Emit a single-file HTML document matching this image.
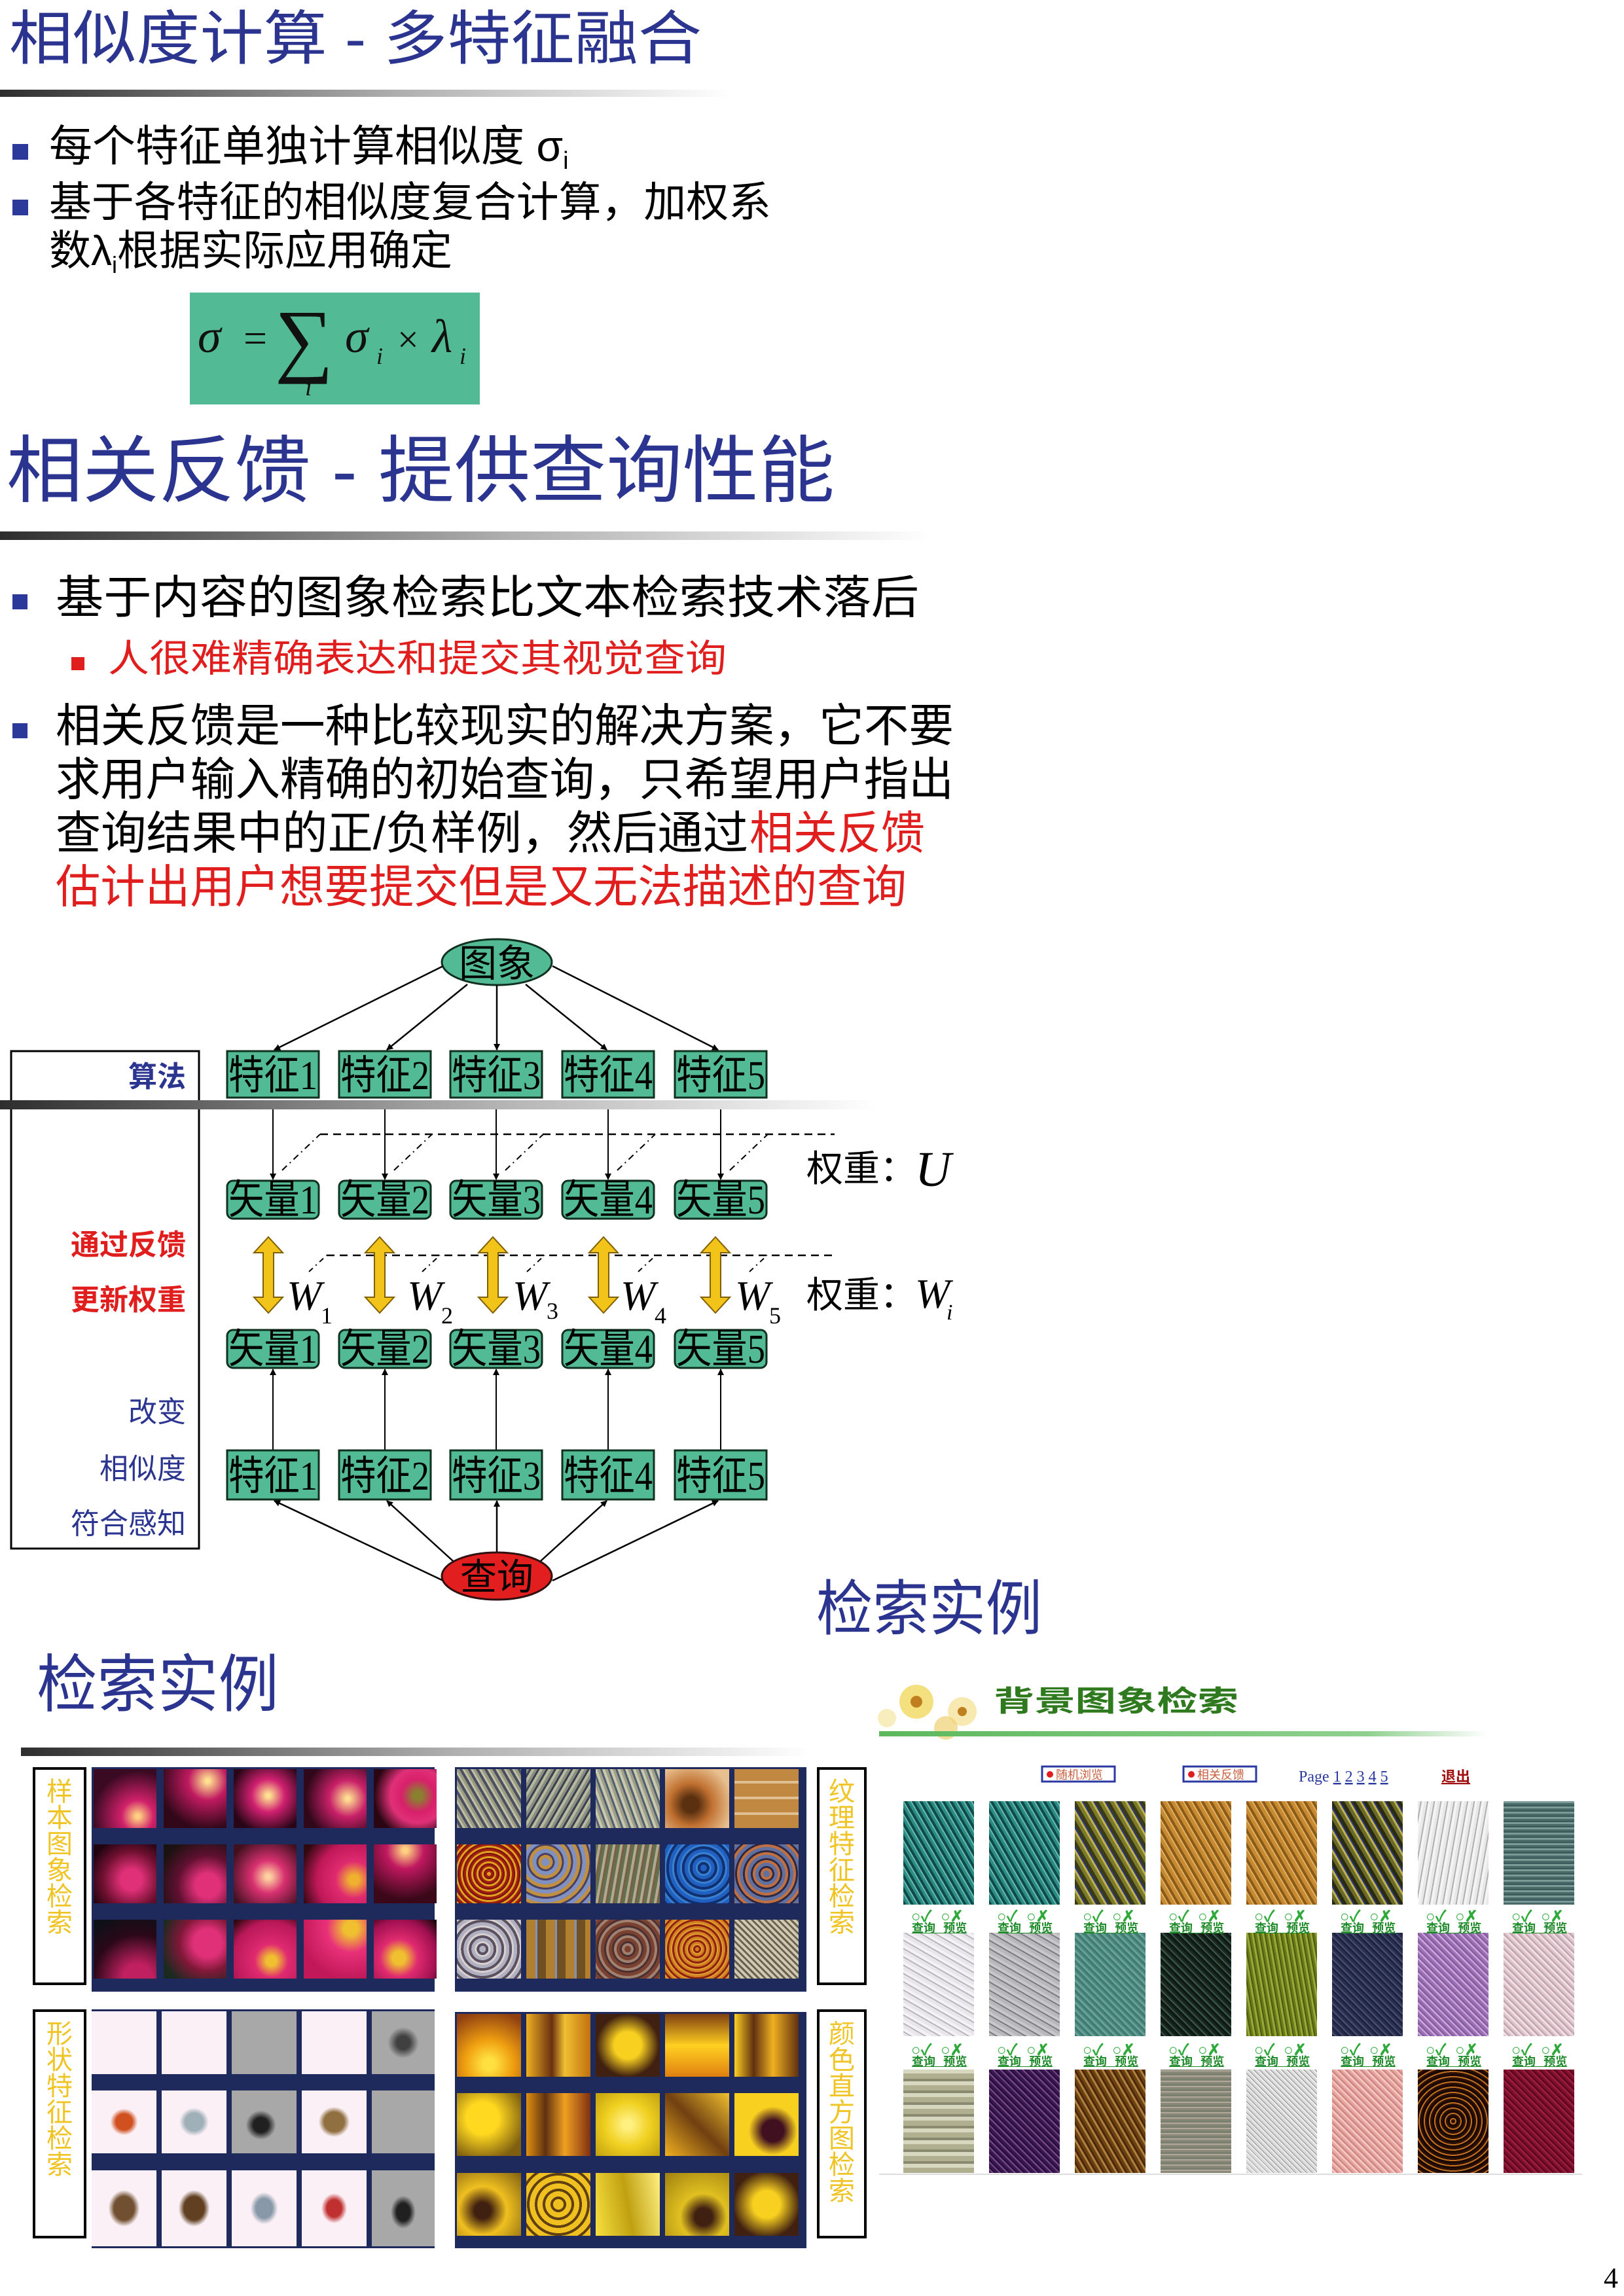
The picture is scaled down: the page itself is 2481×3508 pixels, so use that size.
<!DOCTYPE html>
<html><head><meta charset="utf-8"><style>
html,body{margin:0;padding:0;background:#fff;}
body{width:2481px;height:3508px;position:relative;overflow:hidden;font-family:"Liberation Sans","Noto Sans CJK SC",sans-serif;}
.abs{position:absolute;}
.panel{position:absolute;background:#1e2a5c;}
.cell{position:absolute;width:96px;height:90px;}
.vbox{position:absolute;border:4px solid #000;background:#fff;box-sizing:border-box;}
.vtxt{color:#f0c424;font-size:40px;line-height:40px;width:44px;margin:10px auto;text-align:center;font-family:"Noto Sans CJK SC",sans-serif;}
.tx{position:absolute;width:108px;height:158px;}
.ck{position:absolute;font-size:24px;color:#2faa3a;font-weight:bold;white-space:nowrap;}
.ql{position:absolute;font-size:18px;color:#1f8a2a;text-decoration:underline;font-family:"Noto Sans CJK SC",sans-serif;font-weight:bold;white-space:nowrap;}
</style></head><body>

<svg class="abs" style="left:0;top:0" width="2481" height="3508" xmlns="http://www.w3.org/2000/svg">
<defs>
<linearGradient id="bar" x1="0" x2="1"><stop offset="0" stop-color="#2e2e2e"/><stop offset="0.55" stop-color="#b0b0b0"/><stop offset="1" stop-color="#fff"/></linearGradient>
<linearGradient id="gbar" x1="0" x2="1"><stop offset="0" stop-color="#5cb85c"/><stop offset="0.8" stop-color="#8fd08f"/><stop offset="1" stop-color="#fff"/></linearGradient>
<marker id="ah" markerWidth="10" markerHeight="10" refX="9" refY="5" orient="auto" markerUnits="userSpaceOnUse"><path d="M0,0 L10,5 L0,10 z" fill="#000"/></marker>
<g id="yarr"><path d="M0,-58 L-22,-34 L-8,-34 L-8,34 L-22,34 L0,58 L22,34 L8,34 L8,-34 L22,-34 z" fill="#f2c318" stroke="#806000" stroke-width="2"/></g>
</defs>
<style>
.cjk{font-family:"Liberation Sans","Noto Sans CJK SC",sans-serif;}
.ser{font-family:"Liberation Serif","Noto Serif CJK SC",serif;}
.fb{fill:#52bb96;stroke:#103020;stroke-width:3;}
.ft{font-family:"Liberation Serif","Noto Sans CJK SC",serif;font-size:62px;fill:#000;}
</style>

<text x="14" y="90" class="cjk" font-size="90" fill="#2b3590" textLength="1058" lengthAdjust="spacingAndGlyphs">相似度计算 - 多特征融合</text>
<rect x="0" y="137" width="1116" height="11" fill="url(#bar)"/>

<rect x="19" y="220" width="24" height="24" fill="#2b3a9a"/>
<text x="75" y="246" class="cjk" font-size="66" fill="#000">每个特征单独计算相似度 <tspan>σ</tspan><tspan font-size="38" dy="12">i</tspan></text>
<rect x="19" y="305" width="24" height="24" fill="#2b3a9a"/>
<text x="75" y="331" class="cjk" font-size="64" fill="#000" textLength="1103" lengthAdjust="spacingAndGlyphs">基于各特征的相似度复合计算，加权系</text>
<text x="75" y="405" class="cjk" font-size="64" fill="#000">数λ<tspan font-size="36" dy="12">i</tspan><tspan dy="-12">根据实际应用确定</tspan></text>

<rect x="290" y="447" width="443" height="171" fill="#52bb96"/>
<g class="ser" font-style="italic" fill="#111">
<text x="302" y="538" font-size="72">σ</text>
<text x="372" y="538" font-size="64" font-style="normal">=</text>
<text x="420" y="560" font-size="125" font-style="normal">∑</text>
<text x="466" y="604" font-size="38">i</text>
<text x="527" y="538" font-size="72">σ</text>
<text x="575" y="556" font-size="36">i</text>
<text x="607" y="538" font-size="58" font-style="normal">×</text>
<text x="660" y="538" font-size="72">λ</text>
<text x="702" y="556" font-size="36">i</text>
</g>

<text x="10" y="758" class="cjk" font-size="112" fill="#2b3590" textLength="1265" lengthAdjust="spacingAndGlyphs">相关反馈 - 提供查询性能</text>
<rect x="0" y="812" width="1424" height="13" fill="url(#bar)"/>

<rect x="19" y="908" width="23" height="23" fill="#2b3a9a"/>
<text x="85" y="937" class="cjk" font-size="70" fill="#000" textLength="1319" lengthAdjust="spacingAndGlyphs">基于内容的图象检索比文本检索技术落后</text>
<rect x="109" y="1004" width="20" height="20" fill="#e01e1e"/>
<text x="165" y="1026" class="cjk" font-size="58" fill="#e01e1e" textLength="945" lengthAdjust="spacingAndGlyphs">人很难精确表达和提交其视觉查询</text>
<rect x="19" y="1105" width="23" height="23" fill="#2b3a9a"/>
<text x="85" y="1133" class="cjk" font-size="70" fill="#000" textLength="1372" lengthAdjust="spacingAndGlyphs">相关反馈是一种比较现实的解决方案，它不要</text>
<text x="85" y="1215" class="cjk" font-size="70" fill="#000" textLength="1372" lengthAdjust="spacingAndGlyphs">求用户输入精确的初始查询，只希望用户指出</text>
<text x="85" y="1297" class="cjk" font-size="70" fill="#000" textLength="1058" lengthAdjust="spacingAndGlyphs">查询结果中的正/负样例，然后通过</text>
<text x="1145" y="1297" class="cjk" font-size="70" fill="#e01e1e" textLength="268" lengthAdjust="spacingAndGlyphs">相关反馈</text>
<text x="85" y="1379" class="cjk" font-size="70" fill="#e01e1e" textLength="1300" lengthAdjust="spacingAndGlyphs">估计出用户想要提交但是又无法描述的查询</text>

<rect x="17" y="1606" width="287" height="760" fill="none" stroke="#000" stroke-width="3"/>
<g class="cjk" font-size="44" text-anchor="end">
<text x="284" y="1660" fill="#2b3590" font-weight="bold">算法</text>
<text x="284" y="1917" fill="#e01e1e" font-weight="bold">通过反馈</text>
<text x="284" y="2001" fill="#e01e1e" font-weight="bold">更新权重</text>
<text x="284" y="2172" fill="#2b3590">改变</text>
<text x="284" y="2259" fill="#2b3590">相似度</text>
<text x="284" y="2343" fill="#2b3590">符合感知</text>
</g>

<ellipse cx="759" cy="1470" rx="84" ry="35" fill="#52bb96" stroke="#103020" stroke-width="3"/>
<text x="759" y="1492" class="cjk" font-size="58" text-anchor="middle">图象</text>
<g stroke="#000" stroke-width="2.5" marker-end="url(#ah)">
<line x1="677" y1="1476" x2="419" y2="1604"/>
<line x1="714" y1="1504" x2="591" y2="1604"/>
<line x1="759" y1="1505" x2="759" y2="1604"/>
<line x1="803" y1="1504" x2="927" y2="1604"/>
<line x1="844" y1="1476" x2="1097" y2="1604"/>
</g>

<g>
<rect class="fb" x="347" y="1606" width="140" height="71"/><rect class="fb" x="518" y="1606" width="140" height="71"/><rect class="fb" x="688" y="1606" width="140" height="71"/><rect class="fb" x="859" y="1606" width="140" height="71"/><rect class="fb" x="1031" y="1606" width="140" height="71"/>
<text class="ft" x="349" y="1664" textLength="136" lengthAdjust="spacingAndGlyphs">特征1</text><text class="ft" x="520" y="1664" textLength="136" lengthAdjust="spacingAndGlyphs">特征2</text><text class="ft" x="690" y="1664" textLength="136" lengthAdjust="spacingAndGlyphs">特征3</text><text class="ft" x="861" y="1664" textLength="136" lengthAdjust="spacingAndGlyphs">特征4</text><text class="ft" x="1033" y="1664" textLength="136" lengthAdjust="spacingAndGlyphs">特征5</text>
</g>

<rect x="0" y="1681" width="1340" height="14" fill="url(#bar)"/>

<g stroke="#000" stroke-width="2" marker-end="url(#ah)">
<line x1="417" y1="1695" x2="417" y2="1802"/><line x1="588" y1="1695" x2="588" y2="1802"/><line x1="758" y1="1695" x2="758" y2="1802"/><line x1="929" y1="1695" x2="929" y2="1802"/><line x1="1101" y1="1695" x2="1101" y2="1802"/>
</g>
<line x1="489" y1="1733" x2="1275" y2="1733" stroke="#000" stroke-width="2.5" stroke-dasharray="12,8"/>
<g stroke="#000" stroke-width="2" stroke-dasharray="10,6,2,6">
<line x1="431" y1="1788" x2="489" y2="1733"/><line x1="602" y1="1788" x2="660" y2="1733"/><line x1="772" y1="1788" x2="830" y2="1733"/><line x1="943" y1="1788" x2="1001" y2="1733"/><line x1="1115" y1="1788" x2="1173" y2="1733"/>
</g>
<text x="1232" y="1805" class="cjk" font-size="56">权重：</text>
<text x="1398" y="1812" class="ser" font-size="76" font-style="italic">U</text>

<g>
<rect class="fb" x="347" y="1804" width="140" height="58" rx="9"/><rect class="fb" x="518" y="1804" width="140" height="58" rx="9"/><rect class="fb" x="688" y="1804" width="140" height="58" rx="9"/><rect class="fb" x="859" y="1804" width="140" height="58" rx="9"/><rect class="fb" x="1031" y="1804" width="140" height="58" rx="9"/>
<text class="ft" x="349" y="1854" font-size="58" textLength="136" lengthAdjust="spacingAndGlyphs">矢量1</text><text class="ft" x="520" y="1854" font-size="58" textLength="136" lengthAdjust="spacingAndGlyphs">矢量2</text><text class="ft" x="690" y="1854" font-size="58" textLength="136" lengthAdjust="spacingAndGlyphs">矢量3</text><text class="ft" x="861" y="1854" font-size="58" textLength="136" lengthAdjust="spacingAndGlyphs">矢量4</text><text class="ft" x="1033" y="1854" font-size="58" textLength="136" lengthAdjust="spacingAndGlyphs">矢量5</text>
</g>

<line x1="499" y1="1918" x2="1275" y2="1918" stroke="#000" stroke-width="2.5" stroke-dasharray="12,8"/>
<g stroke="#000" stroke-width="2" stroke-dasharray="8,6,2,6">
<line x1="472" y1="1943" x2="499" y2="1918"/><line x1="645" y1="1943" x2="672" y2="1918"/><line x1="805" y1="1943" x2="832" y2="1918"/><line x1="975" y1="1943" x2="1002" y2="1918"/><line x1="1145" y1="1943" x2="1172" y2="1918"/>
</g>
<use href="#yarr" x="410" y="1948"/><use href="#yarr" x="580" y="1948"/><use href="#yarr" x="753" y="1948"/><use href="#yarr" x="922" y="1948"/><use href="#yarr" x="1093" y="1948"/>
<g class="ser" font-style="italic" font-size="64" fill="#000">
<text x="438" y="2001">W</text><text x="622" y="2001">W</text><text x="783" y="2001">W</text><text x="948" y="2001">W</text><text x="1123" y="2001">W</text>
</g>
<g class="ser" font-size="36" fill="#000">
<text x="490" y="2022">1</text><text x="674" y="2022">2</text><text x="835" y="2015">3</text><text x="1000" y="2022">4</text><text x="1175" y="2022">5</text>
</g>
<text x="1232" y="1998" class="cjk" font-size="56">权重：</text>
<text x="1398" y="1998" class="ser" font-size="64" font-style="italic">W</text>
<text x="1446" y="2016" class="ser" font-size="34" font-style="italic">i</text>

<g>
<rect class="fb" x="347" y="2032" width="140" height="58" rx="9"/><rect class="fb" x="518" y="2032" width="140" height="58" rx="9"/><rect class="fb" x="688" y="2032" width="140" height="58" rx="9"/><rect class="fb" x="859" y="2032" width="140" height="58" rx="9"/><rect class="fb" x="1031" y="2032" width="140" height="58" rx="9"/>
<text class="ft" x="349" y="2082" font-size="58" textLength="136" lengthAdjust="spacingAndGlyphs">矢量1</text><text class="ft" x="520" y="2082" font-size="58" textLength="136" lengthAdjust="spacingAndGlyphs">矢量2</text><text class="ft" x="690" y="2082" font-size="58" textLength="136" lengthAdjust="spacingAndGlyphs">矢量3</text><text class="ft" x="861" y="2082" font-size="58" textLength="136" lengthAdjust="spacingAndGlyphs">矢量4</text><text class="ft" x="1033" y="2082" font-size="58" textLength="136" lengthAdjust="spacingAndGlyphs">矢量5</text>
</g>
<g stroke="#000" stroke-width="2" marker-end="url(#ah)">
<line x1="417" y1="2216" x2="417" y2="2092"/><line x1="588" y1="2216" x2="588" y2="2092"/><line x1="758" y1="2216" x2="758" y2="2092"/><line x1="929" y1="2216" x2="929" y2="2092"/><line x1="1101" y1="2216" x2="1101" y2="2092"/>
</g>
<g>
<rect class="fb" x="347" y="2216" width="140" height="75"/><rect class="fb" x="518" y="2216" width="140" height="75"/><rect class="fb" x="688" y="2216" width="140" height="75"/><rect class="fb" x="859" y="2216" width="140" height="75"/><rect class="fb" x="1031" y="2216" width="140" height="75"/>
<text class="ft" x="349" y="2276" textLength="136" lengthAdjust="spacingAndGlyphs">特征1</text><text class="ft" x="520" y="2276" textLength="136" lengthAdjust="spacingAndGlyphs">特征2</text><text class="ft" x="690" y="2276" textLength="136" lengthAdjust="spacingAndGlyphs">特征3</text><text class="ft" x="861" y="2276" textLength="136" lengthAdjust="spacingAndGlyphs">特征4</text><text class="ft" x="1033" y="2276" textLength="136" lengthAdjust="spacingAndGlyphs">特征5</text>
</g>
<g stroke="#000" stroke-width="2.5" marker-end="url(#ah)">
<line x1="677" y1="2415" x2="419" y2="2293"/>
<line x1="692" y1="2385" x2="591" y2="2293"/>
<line x1="759" y1="2372" x2="759" y2="2293"/>
<line x1="826" y1="2385" x2="927" y2="2293"/>
<line x1="844" y1="2415" x2="1097" y2="2293"/>
</g>
<ellipse cx="759" cy="2408" rx="84" ry="36" fill="#e21e1e" stroke="#301010" stroke-width="3"/>
<text x="759" y="2429" class="cjk" font-size="56" text-anchor="middle">查询</text>

<text x="1247" y="2490" class="cjk" font-size="92" fill="#2b3590" textLength="345" lengthAdjust="spacingAndGlyphs">检索实例</text>
<text x="56" y="2607" class="cjk" font-size="96" fill="#2b3590" textLength="370" lengthAdjust="spacingAndGlyphs">检索实例</text>
<rect x="32" y="2670" width="1208" height="13" fill="url(#bar)"/>

<g>
<circle cx="1400" cy="2600" r="26" fill="#f3d860" opacity="0.8"/><circle cx="1400" cy="2600" r="9" fill="#c08020"/>
<circle cx="1470" cy="2615" r="22" fill="#f5e090" opacity="0.7"/><circle cx="1470" cy="2615" r="7" fill="#c08020"/>
<circle cx="1445" cy="2640" r="18" fill="#eed070" opacity="0.7"/>
<circle cx="1355" cy="2625" r="14" fill="#f5e6a0" opacity="0.7"/>
</g>
<text x="1518" y="2614" class="cjk" font-size="44" font-weight="bold" fill="#2f7a1e" textLength="374" lengthAdjust="spacingAndGlyphs">背景图象检索</text>
<rect x="1343" y="2645" width="930" height="8" fill="url(#gbar)"/>
<rect x="1592" y="2699" width="111" height="23" fill="#fff" stroke="#2a3aa0" stroke-width="3"/>
<circle cx="1604" cy="2711" r="5" fill="#e01e1e"/>
<text x="1613" y="2718" class="cjk" font-size="18" fill="#c86040">随机浏览</text>
<rect x="1808" y="2699" width="111" height="23" fill="#fff" stroke="#2a3aa0" stroke-width="3"/>
<circle cx="1820" cy="2711" r="5" fill="#e01e1e"/>
<text x="1829" y="2718" class="cjk" font-size="18" fill="#c86040">相关反馈</text>
<text x="1984" y="2722" class="ser" font-size="24" fill="#2a3aa0">Page <tspan text-decoration="underline">1</tspan> <tspan text-decoration="underline">2</tspan> <tspan text-decoration="underline">3</tspan> <tspan text-decoration="underline">4</tspan> <tspan text-decoration="underline">5</tspan></text>
<text x="2202" y="2722" class="cjk" font-size="22" fill="#a01010" text-decoration="underline" font-weight="bold">退出</text>
<line x1="1343" y1="3322" x2="2417" y2="3322" stroke="#ddd" stroke-width="2"/>

<text x="2450" y="3495" class="ser" font-size="44" fill="#000">4</text>
</svg>

<div class="vbox" style="left:50px;top:2700px;width:82px;height:333px"><div class="vtxt">样本图象检索</div></div>
<div class="panel" style="left:140px;top:2700px;width:524px;height:343px">
<div class="cell" style="left:3px;top:3px;background:radial-gradient(circle at 70% 80%,#ffd080 3%,#d0206a 25%,#3a0a22 70%)"></div>
<div class="cell" style="left:110px;top:3px;background:radial-gradient(circle at 70% 20%,#ffe090 3%,#c01a60 30%,#300818 75%)"></div>
<div class="cell" style="left:217px;top:3px;background:radial-gradient(circle at 55% 45%,#ffe090 4%,#d02070 35%,#280616 80%)"></div>
<div class="cell" style="left:324px;top:3px;background:radial-gradient(circle at 70% 50%,#ffe090 3%,#c82068 35%,#30081a 80%)"></div>
<div class="cell" style="left:431px;top:3px;background:radial-gradient(circle at 70% 45%,#8a8030 8%,#d8206a 30%,#e03078 50%,#2a0612 80%)"></div>
<div class="cell" style="left:3px;top:118px;background:radial-gradient(circle at 60% 60%,#e03078 20%,#701030 55%,#200410 85%)"></div>
<div class="cell" style="left:110px;top:118px;background:radial-gradient(circle at 70% 70%,#e03078 20%,#601030 50%,#1a1210 85%)"></div>
<div class="cell" style="left:217px;top:118px;background:radial-gradient(circle at 55% 55%,#ffd0a0 5%,#d83070 35%,#40101e 85%)"></div>
<div class="cell" style="left:324px;top:118px;background:radial-gradient(circle at 80% 60%,#f0b030 8%,#e02a70 30%,#c01858 60%,#300810 90%)"></div>
<div class="cell" style="left:431px;top:118px;background:radial-gradient(circle at 50% 10%,#ffd080 4%,#c01860 30%,#3a0818 80%)"></div>
<div class="cell" style="left:3px;top:233px;background:radial-gradient(circle at 70% 100%,#c02060 20%,#2a0818 60%,#0e1018 90%)"></div>
<div class="cell" style="left:110px;top:233px;background:radial-gradient(circle at 70% 40%,#e03078 25%,#801838 50%,#1a2a20 85%)"></div>
<div class="cell" style="left:217px;top:233px;background:radial-gradient(circle at 60% 70%,#f0c030 9%,#e02a70 30%,#b81858 70%,#300810 95%)"></div>
<div class="cell" style="left:324px;top:233px;background:radial-gradient(circle at 75% 15%,#f0c030 10%,#e83078 35%,#c01858 75%)"></div>
<div class="cell" style="left:431px;top:233px;background:radial-gradient(circle at 40% 65%,#f0c030 12%,#e02a70 35%,#a01050 70%,#200810 95%)"></div>
</div>

<div class="panel" style="left:695px;top:2700px;width:537px;height:343px">
<div class="cell" style="left:3px;top:3px;width:98px;background:repeating-linear-gradient(60deg,#9a9a80 0 4px,#4a5060 4px 8px,#c0c0a8 8px 11px)"></div>
<div class="cell" style="left:109px;top:3px;width:98px;background:repeating-linear-gradient(120deg,#8a9080 0 4px,#3a4050 4px 7px,#b8b8a0 7px 11px)"></div>
<div class="cell" style="left:215px;top:3px;width:98px;background:repeating-linear-gradient(70deg,#a0a088 0 4px,#506070 4px 7px,#c8c8b0 7px 11px)"></div>
<div class="cell" style="left:321px;top:3px;width:98px;background:radial-gradient(circle at 40% 60%,#5a3010 15%,#c07030 40%,#e8c090 80%)"></div>
<div class="cell" style="left:427px;top:3px;width:98px;background:repeating-linear-gradient(0deg,#c08840 0 20px,#e0c090 20px 24px),#c08840"></div>
<div class="cell" style="left:3px;top:118px;width:98px;background:repeating-radial-gradient(circle,#e0a020 0 3px,#a02010 3px 6px,#7a1010 6px 8px)"></div>
<div class="cell" style="left:109px;top:118px;width:98px;background:repeating-radial-gradient(circle at 30% 30%,#8090c0 0 6px,#c09040 6px 11px,#4a4060 11px 14px)"></div>
<div class="cell" style="left:215px;top:118px;width:98px;background:repeating-linear-gradient(100deg,#607050 0 4px,#b0a890 4px 8px,#7a6040 8px 11px)"></div>
<div class="cell" style="left:321px;top:118px;width:98px;background:repeating-radial-gradient(circle at 60% 40%,#2060c0 0 5px,#103070 5px 9px,#3a80d0 9px 12px)"></div>
<div class="cell" style="left:427px;top:118px;width:98px;background:repeating-radial-gradient(circle,#6070a0 0 5px,#c07040 5px 9px,#302840 9px 12px)"></div>
<div class="cell" style="left:3px;top:233px;width:98px;background:repeating-radial-gradient(circle at 40% 50%,#b0b0c0 0 5px,#5a5060 5px 9px,#d8d0d0 9px 12px)"></div>
<div class="cell" style="left:109px;top:233px;width:98px;background:repeating-linear-gradient(90deg,#b08030 0 14px,#8090c0 14px 17px,#705020 17px 30px)"></div>
<div class="cell" style="left:215px;top:233px;width:98px;background:repeating-radial-gradient(circle,#7a4030 0 5px,#a08070 5px 9px,#4a3030 9px 12px)"></div>
<div class="cell" style="left:321px;top:233px;width:98px;background:repeating-radial-gradient(circle,#d08020 0 3px,#902010 3px 6px,#e0a030 6px 8px)"></div>
<div class="cell" style="left:427px;top:233px;width:98px;background:repeating-linear-gradient(45deg,#d0c8b0 0 4px,#6a6050 4px 7px),#a09880"></div>
</div>
<div class="vbox" style="left:1248px;top:2700px;width:76px;height:333px"><div class="vtxt">纹理特征检索</div></div>

<div class="vbox" style="left:50px;top:3070px;width:82px;height:350px"><div class="vtxt">形状特征检索</div></div>
<div class="panel" style="left:140px;top:3070px;width:524px;height:365px">
<div class="cell" style="left:0;top:3px;width:99px;height:96px;background:#fbf0f6"></div>
<div class="cell" style="left:107px;top:3px;width:99px;height:96px;background:#fbf0f6"></div>
<div class="cell" style="left:214px;top:3px;width:99px;height:96px;background:#a8a8a8"></div>
<div class="cell" style="left:321px;top:3px;width:99px;height:96px;background:#fbf0f6"></div>
<div class="cell" style="left:428px;top:3px;width:96px;height:96px;background:radial-gradient(ellipse at 50% 50%,#404040 15%,#a8a8a8 35%)"></div>
<div class="cell" style="left:0;top:124px;width:99px;height:96px;background:radial-gradient(ellipse at 50% 50%,#d05020 18%,#fbf0f6 30%)"></div>
<div class="cell" style="left:107px;top:124px;width:99px;height:96px;background:radial-gradient(ellipse at 50% 50%,#a0b0b8 20%,#fbf0f6 32%)"></div>
<div class="cell" style="left:214px;top:124px;width:99px;height:96px;background:radial-gradient(ellipse at 45% 55%,#202020 15%,#a8a8a8 30%)"></div>
<div class="cell" style="left:321px;top:124px;width:99px;height:96px;background:radial-gradient(ellipse at 50% 50%,#907040 22%,#fbf0f6 34%)"></div>
<div class="cell" style="left:428px;top:124px;width:96px;height:96px;background:#a8a8a8"></div>
<div class="cell" style="left:0;top:246px;width:99px;height:116px;background:radial-gradient(ellipse at 50% 50%,#705030 22%,#fbf0f6 34%)"></div>
<div class="cell" style="left:107px;top:246px;width:99px;height:116px;background:radial-gradient(ellipse at 50% 50%,#604020 22%,#fbf0f6 34%)"></div>
<div class="cell" style="left:214px;top:246px;width:99px;height:116px;background:radial-gradient(ellipse at 50% 50%,#8898a8 18%,#fbf0f6 30%)"></div>
<div class="cell" style="left:321px;top:246px;width:99px;height:116px;background:radial-gradient(ellipse at 50% 50%,#c03030 16%,#fbf0f6 28%)"></div>
<div class="cell" style="left:428px;top:246px;width:96px;height:116px;background:radial-gradient(ellipse at 50% 55%,#202020 15%,#a8a8a8 28%)"></div>
</div>

<div class="panel" style="left:695px;top:3074px;width:537px;height:361px">
<div class="cell" style="left:3px;top:3px;width:98px;height:96px;background:radial-gradient(circle at 50% 80%,#ffe040 10%,#f0a010 40%,#904010 90%)"></div>
<div class="cell" style="left:109px;top:3px;width:98px;height:96px;background:linear-gradient(90deg,#f0b020,#6a3010 40%,#f0c030 60%,#c07010)"></div>
<div class="cell" style="left:215px;top:3px;width:98px;height:96px;background:radial-gradient(circle at 50% 50%,#f8d020 30%,#402010 70%)"></div>
<div class="cell" style="left:321px;top:3px;width:98px;height:96px;background:linear-gradient(0deg,#e08010,#ffd020 50%,#804010)"></div>
<div class="cell" style="left:427px;top:3px;width:98px;height:96px;background:linear-gradient(90deg,#ffd020,#603010 30%,#f0b020 60%,#603010)"></div>
<div class="cell" style="left:3px;top:124px;width:98px;height:96px;background:radial-gradient(circle at 40% 40%,#ffd820 30%,#806010 80%)"></div>
<div class="cell" style="left:109px;top:124px;width:98px;height:96px;background:linear-gradient(90deg,#e09010,#603010 30%,#f0a020 60%,#803010)"></div>
<div class="cell" style="left:215px;top:124px;width:98px;height:96px;background:radial-gradient(circle at 50% 50%,#fff080 10%,#f0d020 50%,#c0a010)"></div>
<div class="cell" style="left:321px;top:124px;width:98px;height:96px;background:linear-gradient(45deg,#f0b020,#704010 50%,#f0c030)"></div>
<div class="cell" style="left:427px;top:124px;width:98px;height:96px;background:radial-gradient(circle at 60% 60%,#401020 20%,#f8d020 45%)"></div>
<div class="cell" style="left:3px;top:246px;width:98px;height:96px;background:radial-gradient(circle at 40% 60%,#402010 15%,#f0c020 45%,#806010)"></div>
<div class="cell" style="left:109px;top:246px;width:98px;height:96px;background:repeating-radial-gradient(circle,#f0c020 0 8px,#604010 8px 12px)"></div>
<div class="cell" style="left:215px;top:246px;width:98px;height:96px;background:linear-gradient(80deg,#f8e040,#c0a010 50%,#fff080)"></div>
<div class="cell" style="left:321px;top:246px;width:98px;height:96px;background:radial-gradient(circle at 60% 70%,#402010 15%,#e0c020 40%,#a08010)"></div>
<div class="cell" style="left:427px;top:246px;width:98px;height:96px;background:radial-gradient(circle at 50% 50%,#f8d020 30%,#402010 75%)"></div>
</div>
<div class="vbox" style="left:1248px;top:3070px;width:76px;height:350px"><div class="vtxt">颜色直方图检索</div></div>

<div class="tx" style="left:1380px;top:2752px;background:repeating-linear-gradient(60deg,#0e4a48 0 4px,#2a8a84 4px 8px,#6ab8b0 8px 10px)"></div>
<div class="tx" style="left:1511px;top:2752px;background:repeating-linear-gradient(60deg,#0e4a48 0 4px,#2a8a84 4px 8px,#6ab8b0 8px 10px)"></div>
<div class="tx" style="left:1642px;top:2752px;background:repeating-linear-gradient(60deg,#3a3a18 0 5px,#7a7a28 5px 10px,#c0b050 10px 13px,#2a3a80 13px 15px)"></div>
<div class="tx" style="left:1773px;top:2752px;background:repeating-linear-gradient(60deg,#8a5a18 0 4px,#c88a30 4px 9px,#e0b060 9px 11px)"></div>
<div class="tx" style="left:1904px;top:2752px;background:repeating-linear-gradient(60deg,#8a5a18 0 4px,#c88a30 4px 9px,#e0b060 9px 11px)"></div>
<div class="tx" style="left:2035px;top:2752px;background:repeating-linear-gradient(60deg,#2a2a10 0 5px,#6a6a28 5px 10px,#c0b050 10px 13px,#2a3a80 13px 15px)"></div>
<div class="tx" style="left:2166px;top:2752px;background:repeating-linear-gradient(100deg,#e8e8e8 0 4px,#b0b0b0 4px 6px,#f4f4f4 6px 10px)"></div>
<div class="tx" style="left:2297px;top:2752px;background:repeating-linear-gradient(0deg,#4a6a6a 0 3px,#7a9a98 3px 6px,#3a5858 6px 8px)"></div>

<div class="tx" style="left:1380px;top:2953px;background:repeating-linear-gradient(30deg,#e8e6ea 0 5px,#b8b6bc 5px 7px,#f4f2f4 7px 11px)"></div>
<div class="tx" style="left:1511px;top:2953px;background:repeating-linear-gradient(30deg,#b8b8bc 0 5px,#7a7a80 5px 7px,#c8c8cc 7px 11px)"></div>
<div class="tx" style="left:1642px;top:2953px;background:repeating-linear-gradient(45deg,#3e7a70 0 3px,#6aa098 3px 6px,#4a8a80 6px 8px)"></div>
<div class="tx" style="left:1773px;top:2953px;background:repeating-linear-gradient(45deg,#101a14 0 4px,#3a5a50 4px 6px,#1a2820 6px 9px)"></div>
<div class="tx" style="left:1904px;top:2953px;background:repeating-linear-gradient(80deg,#6a7a18 0 3px,#9aa838 3px 6px,#4a5a10 6px 8px)"></div>
<div class="tx" style="left:2035px;top:2953px;background:repeating-linear-gradient(45deg,#1e2240 0 3px,#4a5070 3px 5px,#2a3050 5px 8px)"></div>
<div class="tx" style="left:2166px;top:2953px;background:repeating-linear-gradient(45deg,#a070b8 0 3px,#d0b0e0 3px 5px,#8860a0 5px 8px)"></div>
<div class="tx" style="left:2297px;top:2953px;background:repeating-linear-gradient(45deg,#e0c8d0 0 3px,#f4e8ec 3px 5px,#c8a8b0 5px 8px)"></div>

<div class="tx" style="left:1380px;top:3162px;height:158px;background:repeating-linear-gradient(0deg,#b0b090 0 8px,#d8d8c0 8px 14px,#8a8a70 14px 18px)"></div>
<div class="tx" style="left:1511px;top:3162px;height:158px;background:repeating-linear-gradient(45deg,#3a1a50 0 3px,#7a4a8a 3px 5px,#2a1040 5px 8px)"></div>
<div class="tx" style="left:1642px;top:3162px;height:158px;background:repeating-linear-gradient(60deg,#6a4010 0 4px,#b08040 4px 7px,#4a2808 7px 10px)"></div>
<div class="tx" style="left:1773px;top:3162px;height:158px;background:repeating-linear-gradient(0deg,#8a8878 0 3px,#b0a898 3px 5px,#7a8070 5px 8px)"></div>
<div class="tx" style="left:1904px;top:3162px;height:158px;background:repeating-linear-gradient(45deg,#d8d8d8 0 3px,#f0f0f0 3px 5px,#909090 5px 6px)"></div>
<div class="tx" style="left:2035px;top:3162px;height:158px;background:repeating-linear-gradient(45deg,#e8a8a0 0 3px,#f8d0c8 3px 5px,#d08888 5px 8px)"></div>
<div class="tx" style="left:2166px;top:3162px;height:158px;background:repeating-radial-gradient(circle,#2a1005 0 3px,#c07020 3px 5px,#1a0800 5px 8px)"></div>
<div class="tx" style="left:2297px;top:3162px;height:158px;background:repeating-linear-gradient(45deg,#801030 0 3px,#a02040 3px 5px,#600820 5px 8px)"></div>

<div class="ck" style="left:1392px;top:2908px">○✓&nbsp;&nbsp;○✗</div><div class="ck" style="left:1523px;top:2908px">○✓&nbsp;&nbsp;○✗</div><div class="ck" style="left:1654px;top:2908px">○✓&nbsp;&nbsp;○✗</div><div class="ck" style="left:1785px;top:2908px">○✓&nbsp;&nbsp;○✗</div><div class="ck" style="left:1916px;top:2908px">○✓&nbsp;&nbsp;○✗</div><div class="ck" style="left:2047px;top:2908px">○✓&nbsp;&nbsp;○✗</div><div class="ck" style="left:2178px;top:2908px">○✓&nbsp;&nbsp;○✗</div><div class="ck" style="left:2309px;top:2908px">○✓&nbsp;&nbsp;○✗</div>
<div class="ql" style="left:1393px;top:2932px">查询&nbsp;&nbsp;&nbsp;预览</div><div class="ql" style="left:1524px;top:2932px">查询&nbsp;&nbsp;&nbsp;预览</div><div class="ql" style="left:1655px;top:2932px">查询&nbsp;&nbsp;&nbsp;预览</div><div class="ql" style="left:1786px;top:2932px">查询&nbsp;&nbsp;&nbsp;预览</div><div class="ql" style="left:1917px;top:2932px">查询&nbsp;&nbsp;&nbsp;预览</div><div class="ql" style="left:2048px;top:2932px">查询&nbsp;&nbsp;&nbsp;预览</div><div class="ql" style="left:2179px;top:2932px">查询&nbsp;&nbsp;&nbsp;预览</div><div class="ql" style="left:2310px;top:2932px">查询&nbsp;&nbsp;&nbsp;预览</div>
<div class="ck" style="left:1392px;top:3112px">○✓&nbsp;&nbsp;○✗</div><div class="ck" style="left:1523px;top:3112px">○✓&nbsp;&nbsp;○✗</div><div class="ck" style="left:1654px;top:3112px">○✓&nbsp;&nbsp;○✗</div><div class="ck" style="left:1785px;top:3112px">○✓&nbsp;&nbsp;○✗</div><div class="ck" style="left:1916px;top:3112px">○✓&nbsp;&nbsp;○✗</div><div class="ck" style="left:2047px;top:3112px">○✓&nbsp;&nbsp;○✗</div><div class="ck" style="left:2178px;top:3112px">○✓&nbsp;&nbsp;○✗</div><div class="ck" style="left:2309px;top:3112px">○✓&nbsp;&nbsp;○✗</div>
<div class="ql" style="left:1393px;top:3136px">查询&nbsp;&nbsp;&nbsp;预览</div><div class="ql" style="left:1524px;top:3136px">查询&nbsp;&nbsp;&nbsp;预览</div><div class="ql" style="left:1655px;top:3136px">查询&nbsp;&nbsp;&nbsp;预览</div><div class="ql" style="left:1786px;top:3136px">查询&nbsp;&nbsp;&nbsp;预览</div><div class="ql" style="left:1917px;top:3136px">查询&nbsp;&nbsp;&nbsp;预览</div><div class="ql" style="left:2048px;top:3136px">查询&nbsp;&nbsp;&nbsp;预览</div><div class="ql" style="left:2179px;top:3136px">查询&nbsp;&nbsp;&nbsp;预览</div><div class="ql" style="left:2310px;top:3136px">查询&nbsp;&nbsp;&nbsp;预览</div>
</body></html>
